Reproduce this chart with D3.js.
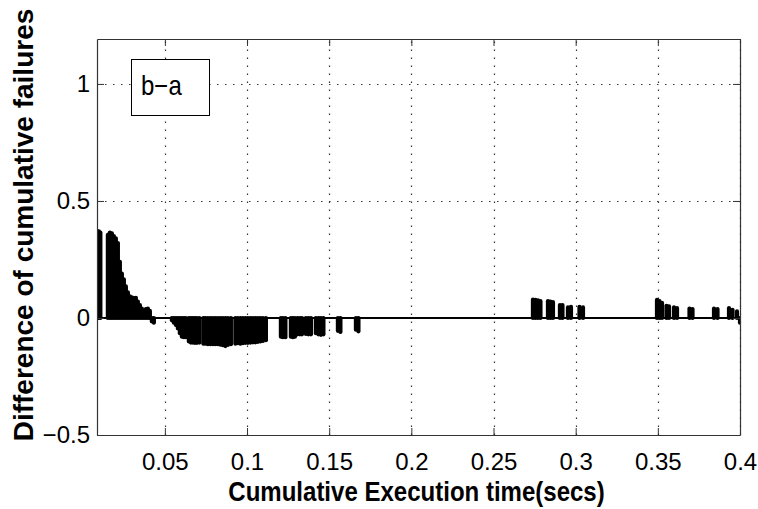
<!DOCTYPE html>
<html>
<head>
<meta charset="utf-8">
<script src="https://cdn.jsdelivr.net/npm/d3@7"></script>
<style>
  html, body { margin: 0; padding: 0; background: #fff; }
  svg { display: block; font-family: "Liberation Sans", Arial, sans-serif; }
</style>
</head>
<body>
<svg id="chart" width="758" height="509"></svg>
<script>
// ---- data ----
const time = [
  0.00892, 0.00983, 0.01074,
  0.01531, 0.01653, 0.01774, 0.01896, 0.02018, 0.02140, 0.02261, 0.02383, 0.02505, 0.02627,
  0.02748, 0.02870, 0.02992, 0.03114, 0.03235, 0.03357, 0.03479, 0.03600, 0.03722, 0.03844,
  0.03966, 0.04087, 0.04209, 0.04331,
  0.05427, 0.05548, 0.05670, 0.05792, 0.05913, 0.06035, 0.06157, 0.06279,
  0.06461, 0.06583, 0.06705, 0.06826, 0.06948, 0.07101,
  0.07344, 0.07466, 0.07618, 0.07770, 0.07922, 0.08074, 0.08227, 0.08379, 0.08531, 0.08683, 0.08835, 0.09018,
  0.09292, 0.09444, 0.09596, 0.09748, 0.09900, 0.10053, 0.10205, 0.10357, 0.10509, 0.10661, 0.10813, 0.10965, 0.11148,
  0.12062, 0.12183, 0.12335, 0.12670, 0.12792, 0.12914, 0.13066, 0.13218, 0.13340,
  0.13583, 0.13735, 0.13888, 0.14189, 0.14344, 0.14496, 0.14648,
  0.15531, 0.15683, 0.16627, 0.16779,
  0.27400, 0.27552, 0.27704, 0.27856, 0.28314, 0.28466, 0.28618, 0.29043, 0.29195,
  0.29530, 0.29713, 0.30232, 0.30445,
  0.34948, 0.35100, 0.35253, 0.35527, 0.35679, 0.35983, 0.36166, 0.36927, 0.37109,
  0.38418, 0.38631, 0.39331, 0.39544, 0.39818, 0.40000
];
const diff = [
  0.37, 0.37, 0.365,
  0.355, 0.365, 0.362, 0.35, 0.34, 0.32, 0.24, 0.19, 0.165, 0.135,
  0.11, 0.092, 0.088, 0.085, 0.086, 0.07, 0.055, 0.04, 0.03, 0.038,
  0.04, 0.03, -0.015, -0.02,
  -0.01, -0.02, -0.03, -0.045, -0.065, -0.08, -0.082, -0.082,
  -0.1, -0.105, -0.105, -0.106, -0.106, -0.105,
  -0.11, -0.11, -0.112, -0.112, -0.112, -0.112, -0.112, -0.114, -0.116, -0.12, -0.115, -0.112,
  -0.11, -0.108, -0.11, -0.108, -0.106, -0.106, -0.105, -0.104, -0.104, -0.102, -0.1, -0.098, -0.095,
  -0.08, -0.082, -0.082, -0.08, -0.082, -0.08, -0.07, -0.07, -0.07,
  -0.068, -0.07, -0.07, -0.065, -0.07, -0.072, -0.07,
  -0.055, -0.06, -0.05, -0.057,
  0.078, 0.077, 0.075, 0.072, 0.072, 0.07, 0.068, 0.055, 0.055,
  0.045, 0.048, 0.048, 0.045,
  0.077, 0.072, 0.065, 0.052, 0.05, 0.045, 0.042, 0.04, 0.038,
  0.04, 0.038, 0.042, 0.035, 0.028, -0.02
];
const xTicks = [0.05, 0.1, 0.15, 0.2, 0.25, 0.3, 0.35, 0.4];
const xTickLabels = ["0.05", "0.1", "0.15", "0.2", "0.25", "0.3", "0.35", "0.4"];
const yTicks = [-0.5, 0, 0.5, 1];
const yTickLabels = ["\u22120.5", "0", "0.5", "1"];
const xDomain = [0.0087, 0.4];
const yDomain = [-0.5, 1.192];
const legendText = "b\u2212a";
const xTitle = "Cumulative Execution time(secs)";
const yTitle = "Difference of cumulative failures";

// ---- layout ----
const L = 97, R = 740, T = 39, B = 435;
const svg = d3.select("#chart");
const x = d3.scaleLinear().domain(xDomain).range([L, R]);
const y = d3.scaleLinear().domain(yDomain).range([B, T]);

svg.append("rect").attr("width", 758).attr("height", 509).attr("fill", "#fff");

svg.append("defs").append("clipPath").attr("id", "plotclip")
  .append("rect").attr("x", L).attr("y", T).attr("width", R - L).attr("height", B - T);

// grid
const grid = svg.append("g").attr("stroke", "#333").attr("stroke-width", 1.2)
  .attr("stroke-dasharray", "1.5,6.5");
grid.selectAll("line.gx").data(xTicks).join("line").attr("class", "gx")
  .attr("x1", d => Math.round(x(d)) + 0.5).attr("x2", d => Math.round(x(d)) + 0.5)
  .attr("y1", B).attr("y2", T);
grid.selectAll("line.gy").data(yTicks).join("line").attr("class", "gy")
  .attr("y1", d => Math.round(y(d)) + 0.5).attr("y2", d => Math.round(y(d)) + 0.5)
  .attr("x1", L).attr("x2", R);

// stems
const pts = time.map((t, i) => ({ t, v: diff[i] }));
svg.append("g").attr("clip-path", "url(#plotclip)")
  .selectAll("line").data(pts).join("line")
  .attr("x1", d => x(d.t)).attr("x2", d => x(d.t))
  .attr("y1", y(0)).attr("y2", d => y(d.v))
  .attr("stroke", "#000").attr("stroke-width", 4.2).attr("stroke-linecap", "round");

// zero line
svg.append("line").attr("x1", L).attr("x2", R).attr("y1", y(0)).attr("y2", y(0))
  .attr("stroke", "#000").attr("stroke-width", 1.8);

// axes
const fmtX = d => xTickLabels[xTicks.indexOf(d)];
const fmtY = d => yTickLabels[yTicks.indexOf(d)];
const gxB = svg.append("g").attr("transform", `translate(0,${B})`)
  .call(d3.axisBottom(x).tickValues(xTicks).tickFormat(fmtX).tickSizeInner(-7).tickSizeOuter(0).tickPadding(18));
const gxT = svg.append("g").attr("transform", `translate(0,${T})`)
  .call(d3.axisTop(x).tickValues(xTicks).tickFormat("").tickSizeInner(-7).tickSizeOuter(0));
const gyL = svg.append("g").attr("transform", `translate(${L},0)`)
  .call(d3.axisLeft(y).tickValues(yTicks).tickFormat(fmtY).tickSizeInner(-7).tickSizeOuter(0).tickPadding(7));
const gyR = svg.append("g").attr("transform", `translate(${R},0)`)
  .call(d3.axisRight(y).tickValues(yTicks).tickFormat("").tickSizeInner(-7).tickSizeOuter(0));

[gxB, gxT, gyL, gyR].forEach(g => {
  g.select(".domain").attr("stroke", "#333").attr("stroke-width", 1.2);
  g.selectAll(".tick line").attr("stroke", "#333");
  g.selectAll("text").attr("font-size", 24).attr("fill", "#000")
    .attr("font-family", "'Liberation Sans', Arial, sans-serif");
});

// legend
svg.append("rect").attr("x", 131.5).attr("y", 59.5).attr("width", 78).attr("height", 56)
  .attr("fill", "#fff").attr("stroke", "#000").attr("stroke-width", 1);
svg.append("text").attr("transform", "translate(141,95) scale(0.89,1)")
  .attr("font-size", 27).attr("fill", "#000").text(legendText);

// titles
svg.append("text").attr("transform", "translate(416.5,501) scale(0.89,1)")
  .attr("text-anchor", "middle").attr("font-size", 27).attr("font-weight", "bold")
  .attr("fill", "#000").text(xTitle);
svg.append("text").attr("transform", "translate(33,225) rotate(-90)")
  .attr("text-anchor", "middle").attr("font-size", 28).attr("font-weight", "bold")
  .attr("fill", "#000").text(yTitle);
</script>
</body>
</html>
